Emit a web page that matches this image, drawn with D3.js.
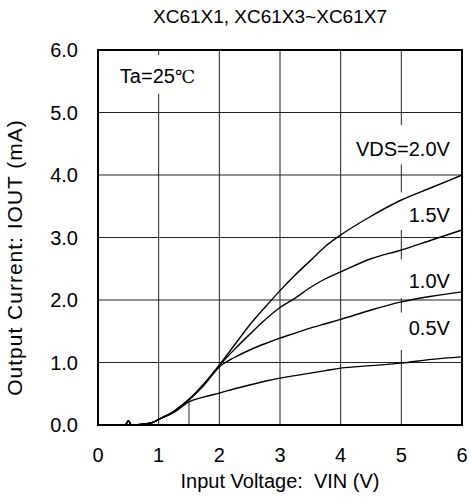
<!DOCTYPE html>
<html>
<head>
<meta charset="utf-8">
<script src="https://cdn.jsdelivr.net/npm/d3@7"></script>
<style>
  body { margin: 0; background: #fff; }
  text { font-family: Arial, "Liberation Sans", sans-serif; fill: #000; }
</style>
</head>
<body>
<div id="my_dataviz"></div>
<script>
// data
var vin = [0, 0.45, 0.5, 0.55, 0.7, 0.9, 1.0, 1.25, 1.5, 1.75, 2.0, 2.25, 2.5, 2.75, 3.0, 3.25, 3.5, 3.75, 4.0, 4.5, 5.0, 5.5, 6.0];
var vds20 = [0, 0, 0.07, 0, 0.01, 0.04, 0.09, 0.22, 0.41, 0.66, 0.96, 1.28, 1.6, 1.88, 2.15, 2.4, 2.63, 2.86, 3.04, 3.34, 3.6, 3.8, 4.0];
var vds15 = [0, 0, 0.07, 0, 0.01, 0.04, 0.09, 0.22, 0.41, 0.66, 0.95, 1.21, 1.45, 1.68, 1.88, 2.03, 2.2, 2.34, 2.45, 2.66, 2.8, 2.96, 3.12];
var vds10 = [0, 0, 0.07, 0, 0.01, 0.04, 0.09, 0.21, 0.4, 0.64, 0.93, 1.08, 1.2, 1.3, 1.39, 1.47, 1.55, 1.62, 1.69, 1.84, 1.97, 2.06, 2.13];
var vds05 = [0, 0, 0.07, 0, 0.01, 0.04, 0.09, 0.2, 0.37, 0.45, 0.51, 0.58, 0.64, 0.7, 0.75, 0.79, 0.83, 0.87, 0.91, 0.95, 0.99, 1.05, 1.09];
var seriesNames = ["VDS=2.0V", "1.5V", "1.0V", "0.5V"];
var xTicks = [0, 1, 2, 3, 4, 5, 6];
var yTicks = [0, 1, 2, 3, 4, 5, 6];

// set the dimensions and margins of the graph
var margin = {top: 50, right: 8, bottom: 73, left: 98},
    width = 470 - margin.left - margin.right,
    height = 498 - margin.top - margin.bottom;

var svg = d3.select("#my_dataviz")
  .append("svg")
    .attr("width", 470)
    .attr("height", 498)
  .append("g")
    .attr("transform", "translate(" + margin.left + "," + margin.top + ")");

var x = d3.scaleLinear().domain([0, 6]).range([0, width]);
var y = d3.scaleLinear().domain([0, 6]).range([height, 0]);

// grid
svg.selectAll(".vgrid")
  .data(xTicks.slice(1, -1))
  .enter().append("line")
    .attr("x1", function(d) { return x(d); })
    .attr("x2", function(d) { return x(d); })
    .attr("y1", 0).attr("y2", height)
    .attr("stroke", "#222").attr("stroke-width", 1);
svg.selectAll(".hgrid")
  .data(yTicks.slice(1, -1))
  .enter().append("line")
    .attr("y1", function(d) { return y(d); })
    .attr("y2", function(d) { return y(d); })
    .attr("x1", 0).attr("x2", width)
    .attr("stroke", "#222").attr("stroke-width", 1);
// short stub at 1.5 V near the bottom
svg.append("line")
  .attr("x1", x(1.5)).attr("x2", x(1.5))
  .attr("y1", y(0)).attr("y2", y(0.37))
  .attr("stroke", "#222").attr("stroke-width", 1);

// white boxes behind the labels (they cut the grid)
var boxes = [
  {x0: 0.25, x1: 1.6, y0: 5.92, y1: 5.3},
  {x0: 4.1, x1: 5.9, y0: 4.8, y1: 4.17},
  {x0: 4.9, x1: 5.9, y0: 3.72, y1: 3.12},
  {x0: 4.9, x1: 5.9, y0: 2.65, y1: 2.03},
  {x0: 4.9, x1: 5.9, y0: 1.8, y1: 1.2}
];
svg.selectAll(".box")
  .data(boxes)
  .enter().append("rect")
    .attr("x", function(d) { return x(d.x0); })
    .attr("y", function(d) { return y(d.y0); })
    .attr("width", function(d) { return x(d.x1) - x(d.x0); })
    .attr("height", function(d) { return y(d.y1) - y(d.y0); })
    .attr("fill", "#fff");

// curves
var line = d3.line()
  .x(function(d, i) { return x(vin[i]); })
  .y(function(d) { return y(d); })
  .curve(d3.curveMonotoneX);
svg.selectAll(".curve")
  .data([vds05, vds10, vds15, vds20])
  .enter().append("path")
    .attr("d", line)
    .attr("fill", "none")
    .attr("stroke", "#000")
    .attr("stroke-width", 1.4);

// frame
svg.append("rect")
  .attr("x", 0).attr("y", 0)
  .attr("width", width).attr("height", height)
  .attr("fill", "none")
  .attr("stroke", "#000").attr("stroke-width", 2);

// tick labels
svg.selectAll(".xt")
  .data(xTicks)
  .enter().append("text")
    .attr("x", function(d) { return x(d); })
    .attr("y", height + 37)
    .attr("text-anchor", "middle")
    .style("font-size", "20px")
    .text(function(d) { return d; });
svg.selectAll(".yt")
  .data(yTicks)
  .enter().append("text")
    .attr("x", -20)
    .attr("y", function(d) { return y(d) + 7; })
    .attr("text-anchor", "end")
    .style("font-size", "20px")
    .text(function(d) { return d.toFixed(1); });

// axis titles
svg.append("text")
  .attr("x", width / 2)
  .attr("y", height + 63)
  .attr("text-anchor", "middle")
  .style("font-size", "20px")
  .style("white-space", "pre")
  .text("Input Voltage:  VIN (V)");
svg.append("text")
  .attr("transform", "translate(" + (-76) + "," + (height / 2 + 20) + ")rotate(-90)")
  .attr("text-anchor", "middle")
  .style("font-size", "21px")
  .style("letter-spacing", "1px")
  .text("Output Current: IOUT (mA)");

// title
svg.append("text")
  .attr("x", width / 2 - 10)
  .attr("y", -27)
  .attr("text-anchor", "middle")
  .style("font-size", "19px")
  .text("XC61X1, XC61X3~XC61X7");

// labels
var ta = svg.append("text")
  .attr("x", x(0.36))
  .attr("y", y(5.47))
  .style("font-size", "20px");
ta.append("tspan").text("Ta=25");
ta.append("tspan").style("font-family", "'DejaVu Serif', serif").style("font-size", "18px").text("℃");

var labelY = [4.3, 3.25, 2.2, 1.44];
svg.selectAll(".lab")
  .data(seriesNames)
  .enter().append("text")
    .attr("x", x(5.8))
    .attr("y", function(d, i) { return y(labelY[i]); })
    .attr("text-anchor", "end")
    .style("font-size", "20px")
    .text(function(d) { return d; });
</script>
</body>
</html>
